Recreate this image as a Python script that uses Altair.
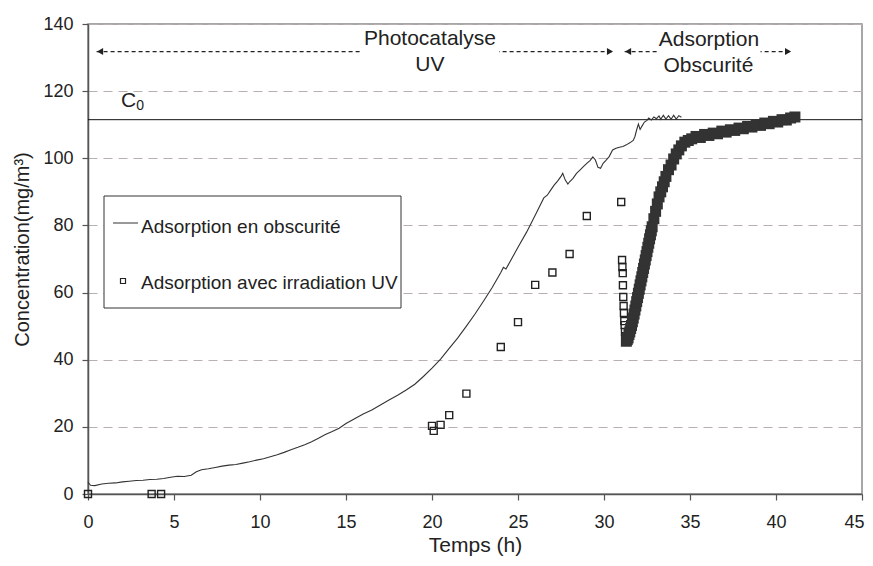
import altair as alt
import pandas as pd

FONT = "Liberation Sans"
INK = "#222222"

# ---- data ----
# Adsorption en obscurité (continuous record): time (h), concentration (mg/m3)
dark_t = [0, 0.15, 0.4, 0.8, 1.2, 1.6, 2.0, 2.4, 2.8, 3.2, 3.6, 4.0, 4.4, 4.8, 5.2, 5.6,
          6.0, 6.3, 6.6, 7.0, 7.4, 7.8, 8.2, 8.6, 9.0, 9.4, 9.8, 10.2, 10.6, 11.0, 11.4,
          11.8, 12.2, 12.6, 13.0, 13.4, 13.8, 14.2, 14.6, 15.0, 15.5, 16.0, 16.5, 17.0,
          17.5, 18.0, 18.5, 19.0, 19.5, 20.0, 20.5, 21.0, 21.5, 22.0, 22.5, 23.0, 23.5,
          24.0, 24.15, 24.3, 25.0, 25.5, 26.0, 26.5, 26.7, 26.9, 27.1, 27.3, 27.5, 27.6,
          27.75, 27.9, 28.0, 28.2, 28.4, 28.6, 28.8, 29.0, 29.2, 29.35, 29.5, 29.65, 29.8,
          29.95, 30.1, 30.3, 30.5, 30.7, 30.9, 31.1, 31.3, 31.5, 31.7, 31.8, 31.9, 32.0,
          32.1, 32.2, 32.35, 32.5, 32.6, 32.75, 32.9, 33.05, 33.2, 33.3, 33.45, 33.6,
          33.75, 33.9, 34.05, 34.2, 34.35, 34.5]
dark_c = [3.5, 2.6, 2.5, 3.0, 3.2, 3.3, 3.6, 3.8, 4.0, 4.1, 4.3, 4.4, 4.6, 5.0, 5.3, 5.2,
          5.6, 6.6, 7.2, 7.5, 7.9, 8.3, 8.6, 8.8, 9.2, 9.6, 10.1, 10.5, 11.1, 11.7, 12.4,
          13.2, 13.9, 14.7, 15.6, 16.6, 17.7, 18.6, 19.6, 21.0, 22.4, 23.8, 25.0, 26.5,
          28.0, 29.4, 31.0, 32.7, 35.0, 37.5, 40.2, 43.4, 46.5, 50.0, 53.6, 57.5, 61.5,
          66.0, 67.5, 67.0, 73.5, 78.0, 83.0, 88.2, 89.0, 90.5, 92.0, 93.2, 94.6, 95.5,
          93.5, 92.3, 93.0, 94.0, 95.5, 96.5, 97.5, 98.5, 99.4, 100.4, 99.5, 97.3, 97.0,
          98.5, 99.3, 100.5, 102.5, 103.0, 103.3, 103.5, 104.0, 104.6, 105.3, 106.5, 108.5,
          110.2, 108.6, 109.5, 110.8, 111.3, 112.0, 111.4, 112.3, 111.8, 112.6, 111.6,
          112.8, 111.7, 112.7, 111.6, 112.8, 111.7, 112.7, 112.2]

# Adsorption avec irradiation UV: discrete samples
uv_t = [0, 3.7, 4.25, 20.0, 20.1, 20.5, 21.0, 22.0, 24.0, 25.0, 26.0, 27.0, 28.0, 29.0,
        31.0, 31.05, 31.07, 31.09, 31.1, 31.12, 31.14, 31.16, 31.18, 31.2, 31.22, 31.25, 31.27]
uv_c = [0, 0, 0, 20.3, 18.8, 20.6, 23.5, 29.9, 43.8, 51.2, 62.3, 66.0, 71.5, 82.8,
        87.0, 69.7, 67.6, 65.8, 62.2, 58.7, 56.0, 53.9, 51.5, 50.3, 48.3, 47.0, 46.0]

# Same series, dense recording after UV switched off (overlapping markers)
rec_t = [31.3, 31.35, 31.4, 31.45, 31.5, 31.55, 31.6, 31.65, 31.7, 31.75, 31.8, 31.85,
         31.9, 31.95, 32.0, 32.05, 32.1, 32.15, 32.2, 32.25, 32.3, 32.35, 32.4, 32.45,
         32.5, 32.55, 32.6, 32.65, 32.7, 32.75, 32.8, 32.9, 33.0, 33.1, 33.2, 33.3, 33.4,
         33.5, 33.6, 33.75, 33.9, 34.05, 34.2, 34.35, 34.5, 34.7, 34.9, 35.1, 35.35, 35.6,
         35.85, 36.1, 36.35, 36.6, 36.85, 37.1, 37.35, 37.6, 37.85, 38.1, 38.35, 38.6,
         38.85, 39.1, 39.35, 39.6, 39.85, 40.1, 40.35, 40.6, 40.85, 41.1]
rec_c = [45.5, 46.0, 46.5, 47.5, 48.3, 49.3, 50.2, 51.3, 52.4, 53.6, 54.8, 56.0,
         57.3, 58.5, 59.8, 61.0, 62.3, 63.5, 64.7, 66.0, 67.2, 68.5, 69.7, 71.0,
         72.2, 73.5, 74.7, 76.0, 77.2, 78.4, 79.6, 82.0, 84.2, 86.4, 88.5, 90.0, 91.5,
         93.0, 94.6, 96.6, 98.0, 99.8, 101.3, 102.5, 103.7, 104.8, 105.3, 105.8, 106.5, 106.2,
         107.1, 106.8, 107.5, 107.3, 108.1, 107.8, 108.5, 108.3, 109.0, 108.8, 109.5, 109.3,
         110.0, 109.8, 110.5, 110.3, 111.0, 110.8, 111.5, 111.4, 112.0, 112.3]

C0 = 111.5
x_ticks = [0, 5, 10, 15, 20, 25, 30, 35, 40, 45]
y_ticks = [0, 20, 40, 60, 80, 100, 120, 140]

phase_labels = ["Photocatalyse", "UV", "Adsorption", "Obscurité"]
phase_t = [19.88, 19.88, 36.1, 36.07]
phase_c = [133.6, 126.0, 133.5, 125.8]
arrow_start = [0.5, 31.2]
arrow_end = [30.55, 40.9]
arrow_level = 131.8
legend_labels = ["Adsorption en obscurité", "Adsorption avec irradiation UV"]

# ---- scales / axes ----
xs = alt.Scale(domain=[0, 45], nice=False, zero=False)
ys = alt.Scale(domain=[0, 140], nice=False, zero=False)

xaxis = alt.Axis(values=x_ticks, title="Temps (h)", grid=False, tickSize=6, labelPadding=13,
                 labelFontSize=18, titleFontSize=21, titleY=57, titleBaseline="alphabetic",
                 labelFont=FONT, titleFont=FONT, labelColor=INK, titleColor=INK,
                 titleFontWeight="normal", domainColor="#555555", tickColor="#555555",
                 domainWidth=1.5, tickWidth=1.2, labelFlush=False,
                 labelOffset={"condition": {"test": "datum.value === 45", "value": -8}, "value": 0},
                 labelOverlap=False, format="d")
yaxis = alt.Axis(values=y_ticks, title="Concentration(mg/m³)", grid=True, gridDash=[9, 6],
                 gridColor="#b8afaf", gridWidth=1, tickSize=6, labelPadding=9,
                 labelFontSize=18, titleFontSize=20, titleX=-59.7, titleY=225, titleAngle=270,
                 titleBaseline="alphabetic", titleAlign="center",
                 labelFont=FONT, titleFont=FONT, labelColor=INK, titleColor=INK,
                 titleFontWeight="normal", domainColor="#555555", tickColor="#555555",
                 domainWidth=1.5, tickWidth=1.2, labelFlush=False, labelOverlap=False, format="d")


def X(field="t"):
    return alt.X(f"{field}:Q", scale=xs, axis=xaxis)


def Y(field="c"):
    return alt.Y(f"{field}:Q", scale=ys, axis=yaxis)


dark_df = pd.DataFrame({"t": dark_t, "c": dark_c})
uv_df = pd.DataFrame({"t": uv_t, "c": uv_c})
rec_df = pd.DataFrame({"t": rec_t, "c": rec_c})
c0_df = pd.DataFrame({"c": [C0]})
arrow_df = pd.DataFrame({"t": arrow_start, "t2": arrow_end, "c": [arrow_level] * 2})
head_l = pd.DataFrame({"t": [a + 0.2 for a in arrow_start], "c": [arrow_level] * 2})
head_r = pd.DataFrame({"t": [a - 0.2 for a in arrow_end], "c": [arrow_level] * 2})
mask_df = pd.DataFrame({"t": [15.9, 33.1], "t2": [23.9, 39.1], "c": [130.6] * 2, "c2": [134.0] * 2})
phase_df = pd.DataFrame({"t": phase_t, "c": phase_c, "label": phase_labels})
one = pd.DataFrame({"k": [0]})

c0_rule = alt.Chart(c0_df).mark_rule(color="#111111", strokeWidth=1).encode(y=Y())
dark_line = alt.Chart(dark_df).mark_line(color="#333333", strokeWidth=1.1).encode(x=X(), y=Y())
uv_pts = alt.Chart(uv_df).mark_point(shape="square", filled=False, size=49, strokeWidth=1.4,
                                     color="#222222", opacity=1).encode(x=X(), y=Y())
rec_pts = alt.Chart(rec_df).mark_square(size=121, color="#333333", opacity=1).encode(x=X(), y=Y())

arrows = alt.Chart(arrow_df).mark_rule(color=INK, strokeWidth=1.3, strokeDash=[4, 3]).encode(
    x=X(), x2="t2:Q", y=Y())
heads_l = alt.Chart(head_l).mark_point(shape="triangle-left", filled=True, size=50, color=INK,
                                       opacity=1).encode(x=X(), y=Y())
heads_r = alt.Chart(head_r).mark_point(shape="triangle-right", filled=True, size=50, color=INK,
                                       opacity=1).encode(x=X(), y=Y())
masks = alt.Chart(mask_df).mark_rect(color="white").encode(x=X(), x2="t2:Q", y=Y(), y2="c2:Q")
phase_txt = alt.Chart(phase_df).mark_text(font=FONT, fontSize=21, color=INK, align="center",
                                          baseline="alphabetic").encode(x=X(), y=Y(), text="label:N")

c_txt = alt.Chart(pd.DataFrame({"t": [1.92], "c": [115.3], "s": ["C"]})).mark_text(
    font=FONT, fontSize=21, color=INK, align="left", baseline="alphabetic").encode(
    x=X(), y=Y(), text="s:N")
c_sub = alt.Chart(pd.DataFrame({"t": [2.8], "c": [114.5], "s": ["0"]})).mark_text(
    font=FONT, fontSize=14, color=INK, align="left", baseline="alphabetic").encode(
    x=X(), y=Y(), text="s:N")

# legend box (drawn as decoration, pixel positions inside the plot area)
leg_box = alt.Chart(one).mark_rect(fill="white", stroke="#333333", strokeWidth=1).encode(
    x=alt.value(16), x2=alt.value(313), y=alt.value(172), y2=alt.value(284))
leg_line = alt.Chart(one).mark_rule(color="#333333", strokeWidth=1).encode(
    x=alt.value(25), x2=alt.value(50), y=alt.value(199))
leg_sq = alt.Chart(one).mark_point(shape="square", filled=False, size=25, strokeWidth=1.2,
                                   color="#222222", opacity=1).encode(
    x=alt.value(35), y=alt.value(257))
leg_t1 = alt.Chart(one).mark_text(font=FONT, fontSize=19, color=INK, align="left",
                                  baseline="alphabetic", text=legend_labels[0]).encode(
    x=alt.value(53), y=alt.value(209))
leg_t2 = alt.Chart(one).mark_text(font=FONT, fontSize=19, color=INK, align="left",
                                  baseline="alphabetic", text=legend_labels[1]).encode(
    x=alt.value(53), y=alt.value(265))

chart = alt.layer(
    c0_rule, dark_line, uv_pts, rec_pts, arrows, heads_l, heads_r, masks, phase_txt,
    c_txt, c_sub, leg_box, leg_line, leg_sq, leg_t1, leg_t2
).properties(
    width=774, height=470,
    padding={"left": 80, "top": 16, "right": 3, "bottom": 64},
    autosize=alt.AutoSizeParams(type="none"),
    background="white",
).configure_view(stroke="#8a8a8a", strokeWidth=1.5)

chart.save("out.html", embed_options={"renderer": "svg", "actions": False})
